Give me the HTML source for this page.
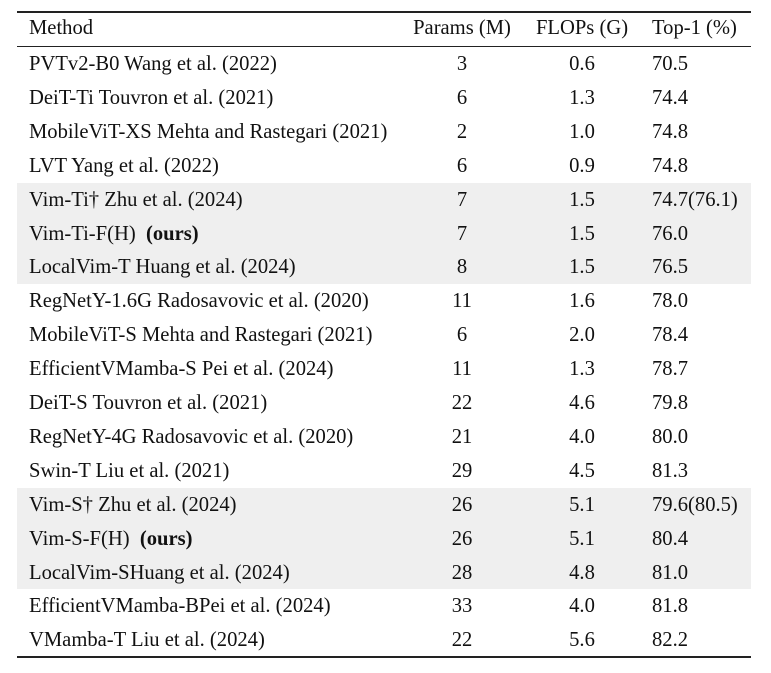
<!DOCTYPE html>
<html><head><meta charset="utf-8"><style>
body{margin:0;background:#fff;width:771px;height:673px;position:relative;overflow:hidden;font-family:"Liberation Serif",serif;font-size:20.6px;color:#111}
.rule{position:absolute;left:17px;width:734px;background:#222}
.shade{position:absolute;left:17px;width:734px;background:#efefef}
.r{position:absolute;left:0;width:771px;height:34px;line-height:34px;white-space:nowrap}
.r span{position:absolute;top:0}
.m{left:29px}
.p{left:412px;width:100px;text-align:center}
.f{left:532px;width:100px;text-align:center}
.t{left:652px}
</style></head><body>
<div class="rule" style="top:11px;height:1.5px"></div>
<div class="rule" style="top:46px;height:1px"></div>
<div class="rule" style="top:656px;height:1.5px"></div>
<div class="shade" style="top:182.6px;height:101.7px"></div>
<div class="shade" style="top:487.7px;height:101.7px"></div>
<div class="r" style="top:11px"><span class="m">Method</span><span class="p">Params (M)</span><span class="f">FLOPs (G)</span><span class="t">Top-1 (%)</span></div>
<div class="r" style="top:47px"><span class="m">PVTv2-B0 Wang et al. (2022)</span><span class="p">3</span><span class="f">0.6</span><span class="t">70.5</span></div>
<div class="r" style="top:80.9px"><span class="m">DeiT-Ti Touvron et al. (2021)</span><span class="p">6</span><span class="f">1.3</span><span class="t">74.4</span></div>
<div class="r" style="top:114.8px"><span class="m">MobileViT-XS Mehta and Rastegari (2021)</span><span class="p">2</span><span class="f">1.0</span><span class="t">74.8</span></div>
<div class="r" style="top:148.7px"><span class="m">LVT Yang et al. (2022)</span><span class="p">6</span><span class="f">0.9</span><span class="t">74.8</span></div>
<div class="r" style="top:182.6px"><span class="m">Vim-Ti† Zhu et al. (2024)</span><span class="p">7</span><span class="f">1.5</span><span class="t">74.7(76.1)</span></div>
<div class="r" style="top:216.5px"><span class="m">Vim-Ti-F(H) &nbsp;<b>(ours)</b></span><span class="p">7</span><span class="f">1.5</span><span class="t">76.0</span></div>
<div class="r" style="top:250.4px"><span class="m">LocalVim-T Huang et al. (2024)</span><span class="p">8</span><span class="f">1.5</span><span class="t">76.5</span></div>
<div class="r" style="top:284.3px"><span class="m">RegNetY-1.6G Radosavovic et al. (2020)</span><span class="p">11</span><span class="f">1.6</span><span class="t">78.0</span></div>
<div class="r" style="top:318.2px"><span class="m">MobileViT-S Mehta and Rastegari (2021)</span><span class="p">6</span><span class="f">2.0</span><span class="t">78.4</span></div>
<div class="r" style="top:352.1px"><span class="m">EfficientVMamba-S Pei et al. (2024)</span><span class="p">11</span><span class="f">1.3</span><span class="t">78.7</span></div>
<div class="r" style="top:386px"><span class="m">DeiT-S Touvron et al. (2021)</span><span class="p">22</span><span class="f">4.6</span><span class="t">79.8</span></div>
<div class="r" style="top:419.9px"><span class="m">RegNetY-4G Radosavovic et al. (2020)</span><span class="p">21</span><span class="f">4.0</span><span class="t">80.0</span></div>
<div class="r" style="top:453.8px"><span class="m">Swin-T Liu et al. (2021)</span><span class="p">29</span><span class="f">4.5</span><span class="t">81.3</span></div>
<div class="r" style="top:487.7px"><span class="m">Vim-S† Zhu et al. (2024)</span><span class="p">26</span><span class="f">5.1</span><span class="t">79.6(80.5)</span></div>
<div class="r" style="top:521.6px"><span class="m">Vim-S-F(H) &nbsp;<b>(ours)</b></span><span class="p">26</span><span class="f">5.1</span><span class="t">80.4</span></div>
<div class="r" style="top:555.5px"><span class="m">LocalVim-SHuang et al. (2024)</span><span class="p">28</span><span class="f">4.8</span><span class="t">81.0</span></div>
<div class="r" style="top:589.4px"><span class="m">EfficientVMamba-BPei et al. (2024)</span><span class="p">33</span><span class="f">4.0</span><span class="t">81.8</span></div>
<div class="r" style="top:623.3px"><span class="m">VMamba-T Liu et al. (2024)</span><span class="p">22</span><span class="f">5.6</span><span class="t">82.2</span></div>
</body></html>
